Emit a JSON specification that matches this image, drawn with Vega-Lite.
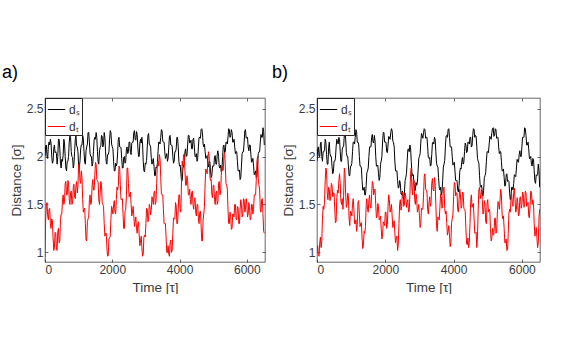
{
"$schema":"https://vega.github.io/schema/vega-lite/v6.json",
"autosize":{"type":"pad"},
"padding":{"left":1,"top":63,"right":0,"bottom":0},
"background":"white",
"bounds":"flush",
"spacing":52,
"config":{
 "font":"Liberation Sans",
 "view":{"stroke":"#262626","strokeWidth":0.7},
 "axis":{"domain":false,"grid":false,"tickColor":"#262626","tickSize":-3,"tickWidth":0.7,"labelColor":"#3a3a3a","titleColor":"#3a3a3a","labelFontSize":12,"titleFontSize":13.5,"titleFontWeight":"normal","labelFont":"Liberation Sans","titleFont":"Liberation Sans"},
 "legend":{"orient":"top-left","offset":0,"title":null,"symbolType":"stroke","symbolSize":300,"symbolStrokeWidth":1,"padding":2,"rowPadding":1,"labelOffset":3,"strokeColor":"#262626","fillColor":"white","labelFontSize":12,"labelFont":"Liberation Sans","labelColor":"#333333","cornerRadius":0}
},
"datasets":{
"a":[
{"t":0,"ds":2.0,"dt":0.95},{"t":40,"ds":2.12,"dt":1.5},{"t":80,"ds":1.98,"dt":1.38},{"t":120,"ds":2.15,"dt":1.45},{"t":160,"ds":2.18,"dt":1.3},{"t":200,"ds":2.0,"dt":1.35},{"t":240,"ds":1.95,"dt":1.15},{"t":280,"ds":2.12,"dt":1.05},{"t":320,"ds":2.05,"dt":1.2},{"t":360,"ds":1.92,"dt":1.02},{"t":400,"ds":2.18,"dt":1.25},{"t":440,"ds":2.08,"dt":1.12},{"t":480,"ds":1.88,"dt":1.4},{"t":520,"ds":1.95,"dt":1.55},{"t":560,"ds":2.18,"dt":1.5},{"t":600,"ds":2.0,"dt":1.72},{"t":640,"ds":1.85,"dt":1.6},{"t":680,"ds":1.95,"dt":1.75},{"t":720,"ds":2.15,"dt":1.55},{"t":760,"ds":2.2,"dt":1.62},{"t":800,"ds":2.0,"dt":1.5},{"t":840,"ds":1.88,"dt":1.68},{"t":880,"ds":2.05,"dt":1.58},{"t":920,"ds":2.22,"dt":1.7},{"t":960,"ds":2.1,"dt":1.62},{"t":1000,"ds":1.9,"dt":1.92},{"t":1040,"ds":1.95,"dt":1.75},{"t":1080,"ds":2.12,"dt":1.85},{"t":1120,"ds":2.22,"dt":1.55},{"t":1160,"ds":2.05,"dt":1.45},{"t":1200,"ds":1.92,"dt":1.3},{"t":1240,"ds":2.1,"dt":1.12},{"t":1280,"ds":2.25,"dt":1.35},{"t":1320,"ds":2.15,"dt":1.55},{"t":1360,"ds":2.0,"dt":1.5},{"t":1400,"ds":1.9,"dt":1.7},{"t":1440,"ds":2.05,"dt":1.65},{"t":1480,"ds":2.2,"dt":1.8},{"t":1520,"ds":2.25,"dt":1.92},{"t":1560,"ds":2.05,"dt":1.75},{"t":1600,"ds":1.92,"dt":1.55},{"t":1640,"ds":2.1,"dt":1.62},{"t":1680,"ds":2.22,"dt":1.7},{"t":1720,"ds":2.1,"dt":1.5},{"t":1760,"ds":2.25,"dt":1.3},{"t":1800,"ds":2.05,"dt":1.2},{"t":1840,"ds":1.92,"dt":1.05},{"t":1880,"ds":2.02,"dt":0.97},{"t":1920,"ds":2.18,"dt":1.15},{"t":1960,"ds":2.25,"dt":1.35},{"t":2000,"ds":2.1,"dt":1.45},{"t":2040,"ds":1.95,"dt":1.5},{"t":2080,"ds":1.85,"dt":1.42},{"t":2120,"ds":1.9,"dt":1.55},{"t":2160,"ds":2.05,"dt":1.65},{"t":2200,"ds":2.2,"dt":1.9},{"t":2240,"ds":2.1,"dt":1.7},{"t":2280,"ds":1.98,"dt":1.55},{"t":2320,"ds":1.88,"dt":1.4},{"t":2360,"ds":2.0,"dt":1.25},{"t":2400,"ds":1.95,"dt":1.45},{"t":2440,"ds":2.1,"dt":1.88},{"t":2480,"ds":2.05,"dt":1.72},{"t":2520,"ds":2.15,"dt":1.6},{"t":2560,"ds":2.02,"dt":1.5},{"t":2600,"ds":2.15,"dt":1.42},{"t":2640,"ds":2.25,"dt":1.38},{"t":2680,"ds":2.18,"dt":1.32},{"t":2720,"ds":2.26,"dt":1.25},{"t":2760,"ds":2.1,"dt":1.3},{"t":2800,"ds":2.0,"dt":1.18},{"t":2840,"ds":2.18,"dt":1.12},{"t":2880,"ds":2.2,"dt":1.05},{"t":2920,"ds":1.95,"dt":0.98},{"t":2960,"ds":1.84,"dt":1.18},{"t":3000,"ds":1.92,"dt":1.3},{"t":3040,"ds":2.1,"dt":1.45},{"t":3080,"ds":2.24,"dt":1.35},{"t":3120,"ds":2.12,"dt":1.48},{"t":3160,"ds":1.98,"dt":1.45},{"t":3200,"ds":1.95,"dt":1.55},{"t":3240,"ds":1.9,"dt":1.62},{"t":3280,"ds":1.8,"dt":1.5},{"t":3320,"ds":1.88,"dt":1.72},{"t":3360,"ds":2.05,"dt":1.95},{"t":3400,"ds":2.15,"dt":2.02},{"t":3440,"ds":2.2,"dt":1.78},{"t":3480,"ds":2.27,"dt":1.6},{"t":3520,"ds":2.15,"dt":1.45},{"t":3560,"ds":2.05,"dt":1.3},{"t":3600,"ds":2.0,"dt":1.15},{"t":3640,"ds":1.95,"dt":1.0},{"t":3680,"ds":2.1,"dt":0.98},{"t":3720,"ds":2.22,"dt":1.1},{"t":3760,"ds":2.12,"dt":1.0},{"t":3800,"ds":2.0,"dt":1.2},{"t":3840,"ds":1.95,"dt":1.35},{"t":3880,"ds":2.05,"dt":1.52},{"t":3920,"ds":2.2,"dt":1.3},{"t":3960,"ds":2.1,"dt":1.45},{"t":4000,"ds":1.9,"dt":1.6},{"t":4040,"ds":1.82,"dt":1.42},{"t":4080,"ds":1.75,"dt":1.95},{"t":4120,"ds":1.9,"dt":2.02},{"t":4160,"ds":2.05,"dt":1.85},{"t":4200,"ds":2.0,"dt":1.7},{"t":4240,"ds":2.12,"dt":1.75},{"t":4280,"ds":2.22,"dt":1.6},{"t":4320,"ds":2.15,"dt":1.55},{"t":4360,"ds":2.08,"dt":1.62},{"t":4400,"ds":2.18,"dt":1.5},{"t":4440,"ds":2.1,"dt":1.55},{"t":4480,"ds":2.0,"dt":1.42},{"t":4520,"ds":1.95,"dt":1.5},{"t":4560,"ds":2.1,"dt":1.35},{"t":4600,"ds":2.2,"dt":1.42},{"t":4640,"ds":2.28,"dt":1.28},{"t":4680,"ds":2.25,"dt":1.12},{"t":4720,"ds":2.1,"dt":1.4},{"t":4760,"ds":2.05,"dt":1.72},{"t":4800,"ds":2.0,"dt":1.85},{"t":4840,"ds":1.92,"dt":1.95},{"t":4880,"ds":1.95,"dt":2.0},{"t":4920,"ds":1.85,"dt":1.75},{"t":4960,"ds":1.8,"dt":1.6},{"t":5000,"ds":1.9,"dt":1.7},{"t":5040,"ds":2.0,"dt":1.55},{"t":5080,"ds":1.92,"dt":1.62},{"t":5120,"ds":2.02,"dt":1.5},{"t":5160,"ds":2.0,"dt":1.72},{"t":5200,"ds":1.88,"dt":1.6},{"t":5240,"ds":1.84,"dt":1.8},{"t":5280,"ds":2.0,"dt":1.85},{"t":5320,"ds":2.12,"dt":2.02},{"t":5360,"ds":2.05,"dt":1.9},{"t":5400,"ds":2.15,"dt":1.7},{"t":5440,"ds":2.2,"dt":1.45},{"t":5480,"ds":2.28,"dt":1.3},{"t":5520,"ds":2.22,"dt":1.38},{"t":5560,"ds":2.25,"dt":1.25},{"t":5600,"ds":2.15,"dt":1.4},{"t":5640,"ds":2.1,"dt":1.5},{"t":5680,"ds":2.05,"dt":1.35},{"t":5720,"ds":1.95,"dt":1.48},{"t":5760,"ds":1.85,"dt":1.3},{"t":5800,"ds":1.76,"dt":1.45},{"t":5840,"ds":1.9,"dt":1.5},{"t":5880,"ds":2.05,"dt":1.4},{"t":5920,"ds":2.15,"dt":1.55},{"t":5960,"ds":2.28,"dt":1.45},{"t":6000,"ds":2.2,"dt":1.5},{"t":6040,"ds":2.1,"dt":1.4},{"t":6080,"ds":2.12,"dt":1.48},{"t":6120,"ds":2.02,"dt":1.35},{"t":6160,"ds":1.95,"dt":1.5},{"t":6200,"ds":1.9,"dt":1.45},{"t":6240,"ds":1.82,"dt":1.6},{"t":6280,"ds":1.78,"dt":1.75},{"t":6320,"ds":1.9,"dt":2.0},{"t":6360,"ds":2.05,"dt":1.7},{"t":6400,"ds":2.15,"dt":1.45},{"t":6440,"ds":2.2,"dt":1.55},{"t":6480,"ds":2.3,"dt":1.4},{"t":6520,"ds":2.12,"dt":1.2},
{"t":20,"ds":2.11,"dt":1.35},{"t":60,"ds":2.0,"dt":1.52},{"t":100,"ds":2.11,"dt":1.34},{"t":140,"ds":2.12,"dt":1.46},{"t":180,"ds":2.14,"dt":1.25},{"t":220,"ds":1.93,"dt":1.33},{"t":260,"ds":2.08,"dt":1.02},{"t":300,"ds":2.04,"dt":1.21},{"t":340,"ds":2.03,"dt":1.03},{"t":380,"ds":2.0,"dt":1.22},{"t":420,"ds":2.18,"dt":1.1},{"t":460,"ds":1.93,"dt":1.34},{"t":500,"ds":1.97,"dt":1.4},{"t":540,"ds":2.02,"dt":1.6},{"t":580,"ds":2.14,"dt":1.53},{"t":620,"ds":1.88,"dt":1.74},{"t":660,"ds":1.95,"dt":1.6},{"t":700,"ds":2.0,"dt":1.73},{"t":740,"ds":2.22,"dt":1.5},{"t":780,"ds":2.05,"dt":1.64},{"t":820,"ds":1.99,"dt":1.51},{"t":860,"ds":1.92,"dt":1.71},{"t":900,"ds":2.18,"dt":1.56},{"t":940,"ds":2.11,"dt":1.74},{"t":980,"ds":2.05,"dt":1.69},{"t":1020,"ds":1.88,"dt":1.91},{"t":1060,"ds":2.08,"dt":1.72},{"t":1100,"ds":2.12,"dt":1.78},{"t":1140,"ds":2.18,"dt":1.42},{"t":1180,"ds":1.94,"dt":1.46},{"t":1220,"ds":2.06,"dt":1.13},{"t":1260,"ds":2.13,"dt":1.32},{"t":1300,"ds":2.25,"dt":1.37},{"t":1340,"ds":2.03,"dt":1.6},{"t":1380,"ds":2.0,"dt":1.52},{"t":1420,"ds":1.93,"dt":1.76},{"t":1460,"ds":2.17,"dt":1.65},{"t":1500,"ds":2.18,"dt":1.94},{"t":1540,"ds":2.2,"dt":1.76},{"t":1580,"ds":1.94,"dt":1.73},{"t":1620,"ds":2.06,"dt":1.5},{"t":1660,"ds":2.11,"dt":1.74},{"t":1700,"ds":2.21,"dt":1.52},{"t":1740,"ds":2.13,"dt":1.48},{"t":1780,"ds":2.2,"dt":1.17},{"t":1820,"ds":1.94,"dt":1.2},{"t":1860,"ds":2.02,"dt":0.96},{"t":1900,"ds":2.05,"dt":1.14},{"t":1940,"ds":2.27,"dt":1.17},{"t":1980,"ds":2.13,"dt":1.48},{"t":2020,"ds":2.08,"dt":1.4},{"t":2060,"ds":1.85,"dt":1.54},{"t":2100,"ds":1.93,"dt":1.4},{"t":2140,"ds":1.93,"dt":1.68},{"t":2180,"ds":2.18,"dt":1.7},{"t":2220,"ds":2.1,"dt":1.88},{"t":2260,"ds":2.09,"dt":1.55},{"t":2300,"ds":1.88,"dt":1.56},{"t":2340,"ds":1.99,"dt":1.25},{"t":2380,"ds":1.93,"dt":1.43},{"t":2420,"ds":2.08,"dt":1.59},{"t":2460,"ds":2.03,"dt":1.88},{"t":2500,"ds":2.15,"dt":1.58},{"t":2540,"ds":2.04,"dt":1.63},{"t":2580,"ds":2.14,"dt":1.38},{"t":2620,"ds":2.15,"dt":1.48},{"t":2660,"ds":2.27,"dt":1.27},{"t":2700,"ds":2.17,"dt":1.37},{"t":2740,"ds":2.23,"dt":1.2},{"t":2780,"ds":2.0,"dt":1.32},{"t":2820,"ds":2.14,"dt":1.07},{"t":2860,"ds":2.14,"dt":1.17},{"t":2900,"ds":2.13,"dt":0.96},{"t":2940,"ds":1.85,"dt":1.16},{"t":2980,"ds":1.93,"dt":1.16},{"t":3020,"ds":1.96,"dt":1.46},{"t":3060,"ds":2.22,"dt":1.32},{"t":3100,"ds":2.13,"dt":1.5},{"t":3140,"ds":2.1,"dt":1.39},{"t":3180,"ds":1.92,"dt":1.58},{"t":3220,"ds":1.98,"dt":1.5},{"t":3260,"ds":1.8,"dt":1.64},{"t":3300,"ds":1.89,"dt":1.53},{"t":3340,"ds":1.92,"dt":1.92},{"t":3380,"ds":2.15,"dt":1.9},{"t":3420,"ds":2.13,"dt":1.98},{"t":3460,"ds":2.28,"dt":1.61},{"t":3500,"ds":2.16,"dt":1.6},{"t":3540,"ds":2.15,"dt":1.3},{"t":3580,"ds":1.98,"dt":1.3},{"t":3620,"ds":2.03,"dt":1.0},{"t":3660,"ds":1.98,"dt":1.07},{"t":3700,"ds":2.21,"dt":0.96},{"t":3740,"ds":2.12,"dt":1.13},{"t":3780,"ds":2.11,"dt":1.02},{"t":3820,"ds":1.93,"dt":1.36},{"t":3860,"ds":2.05,"dt":1.35},{"t":3900,"ds":2.08,"dt":1.49},{"t":3940,"ds":2.2,"dt":1.3},{"t":3980,"ds":1.95,"dt":1.6},{"t":4020,"ds":1.91,"dt":1.43},{"t":4060,"ds":1.74,"dt":1.77},{"t":4100,"ds":1.88,"dt":1.9},{"t":4140,"ds":1.93,"dt":2.01},{"t":4180,"ds":2.08,"dt":1.7},{"t":4220,"ds":2.01,"dt":1.8},{"t":4260,"ds":2.22,"dt":1.6},{"t":4300,"ds":2.14,"dt":1.66},{"t":4340,"ds":2.17,"dt":1.5},{"t":4380,"ds":2.08,"dt":1.64},{"t":4420,"ds":2.19,"dt":1.45},{"t":4460,"ds":2.0,"dt":1.57},{"t":4500,"ds":2.03,"dt":1.38},{"t":4540,"ds":1.98,"dt":1.5},{"t":4580,"ds":2.2,"dt":1.3},{"t":4620,"ds":2.19,"dt":1.43},{"t":4660,"ds":2.29,"dt":1.12},{"t":4700,"ds":2.13,"dt":1.34},{"t":4740,"ds":2.13,"dt":1.48},{"t":4780,"ds":1.98,"dt":1.87},{"t":4820,"ds":2.01,"dt":1.82},{"t":4860,"ds":1.89,"dt":2.05},{"t":4900,"ds":1.95,"dt":1.8},{"t":4940,"ds":1.78,"dt":1.76},{"t":4980,"ds":1.9,"dt":1.57},{"t":5020,"ds":1.9,"dt":1.7},{"t":5060,"ds":2.01,"dt":1.5},{"t":5100,"ds":1.92,"dt":1.64},{"t":5140,"ds":2.06,"dt":1.53},{"t":5180,"ds":1.89,"dt":1.74},{"t":5220,"ds":1.91,"dt":1.62},{"t":5260,"ds":1.87,"dt":1.9},{"t":5300,"ds":2.11,"dt":1.86},{"t":5340,"ds":2.04,"dt":2.04},{"t":5380,"ds":2.15,"dt":1.72},{"t":5420,"ds":2.13,"dt":1.66},{"t":5460,"ds":2.29,"dt":1.3},{"t":5500,"ds":2.2,"dt":1.42},{"t":5540,"ds":2.28,"dt":1.24},{"t":5580,"ds":2.15,"dt":1.4},{"t":5620,"ds":2.18,"dt":1.37},{"t":5660,"ds":2.03,"dt":1.5},{"t":5700,"ds":2.05,"dt":1.34},{"t":5740,"ds":1.85,"dt":1.47},{"t":5780,"ds":1.86,"dt":1.3},{"t":5820,"ds":1.78,"dt":1.55},{"t":5860,"ds":2.03,"dt":1.37},{"t":5900,"ds":2.05,"dt":1.56},{"t":5940,"ds":2.27,"dt":1.42},{"t":5980,"ds":2.19,"dt":1.56},{"t":6020,"ds":2.2,"dt":1.37},{"t":6060,"ds":2.06,"dt":1.52},{"t":6100,"ds":2.12,"dt":1.34},{"t":6140,"ds":1.94,"dt":1.5},{"t":6180,"ds":1.98,"dt":1.4},{"t":6220,"ds":1.81,"dt":1.6},{"t":6260,"ds":1.85,"dt":1.6},{"t":6300,"ds":1.79,"dt":1.95},{"t":6340,"ds":2.03,"dt":1.77},{"t":6380,"ds":2.05,"dt":1.66},{"t":6420,"ds":2.23,"dt":1.42},{"t":6460,"ds":2.2,"dt":1.56},{"t":6500,"ds":2.26,"dt":1.22}
],
"b":[
{"t":0,"ds":1.95,"dt":1.0},{"t":40,"ds":2.1,"dt":0.97},{"t":80,"ds":2.0,"dt":1.1},{"t":120,"ds":2.15,"dt":1.05},{"t":160,"ds":1.95,"dt":1.35},{"t":200,"ds":2.05,"dt":1.45},{"t":240,"ds":2.18,"dt":1.75},{"t":280,"ds":2.02,"dt":1.85},{"t":320,"ds":1.92,"dt":1.55},{"t":360,"ds":2.15,"dt":1.65},{"t":400,"ds":2.0,"dt":1.58},{"t":440,"ds":1.9,"dt":1.7},{"t":480,"ds":1.84,"dt":1.62},{"t":520,"ds":1.95,"dt":1.45},{"t":560,"ds":2.1,"dt":1.32},{"t":600,"ds":2.15,"dt":1.65},{"t":640,"ds":2.2,"dt":1.75},{"t":680,"ds":2.05,"dt":1.72},{"t":720,"ds":1.95,"dt":1.5},{"t":760,"ds":2.1,"dt":1.45},{"t":800,"ds":2.22,"dt":1.88},{"t":840,"ds":2.18,"dt":1.6},{"t":880,"ds":2.0,"dt":1.5},{"t":920,"ds":1.9,"dt":1.58},{"t":960,"ds":1.8,"dt":1.28},{"t":1000,"ds":1.9,"dt":1.42},{"t":1040,"ds":2.05,"dt":1.5},{"t":1080,"ds":2.15,"dt":1.45},{"t":1120,"ds":2.2,"dt":1.3},{"t":1160,"ds":2.25,"dt":1.22},{"t":1200,"ds":2.15,"dt":1.52},{"t":1240,"ds":2.0,"dt":1.4},{"t":1280,"ds":1.9,"dt":1.3},{"t":1320,"ds":1.75,"dt":1.15},{"t":1360,"ds":1.65,"dt":1.08},{"t":1400,"ds":1.6,"dt":1.2},{"t":1440,"ds":1.7,"dt":1.5},{"t":1480,"ds":1.85,"dt":1.45},{"t":1520,"ds":2.0,"dt":1.55},{"t":1560,"ds":2.1,"dt":1.48},{"t":1600,"ds":2.2,"dt":1.6},{"t":1640,"ds":2.15,"dt":1.72},{"t":1680,"ds":2.22,"dt":1.65},{"t":1720,"ds":2.0,"dt":1.5},{"t":1760,"ds":1.9,"dt":1.38},{"t":1800,"ds":1.82,"dt":1.48},{"t":1840,"ds":1.78,"dt":1.35},{"t":1880,"ds":1.95,"dt":1.25},{"t":1920,"ds":2.15,"dt":1.18},{"t":1960,"ds":2.25,"dt":1.3},{"t":2000,"ds":2.15,"dt":1.42},{"t":2040,"ds":2.05,"dt":1.25},{"t":2080,"ds":2.12,"dt":1.48},{"t":2120,"ds":2.2,"dt":1.55},{"t":2160,"ds":2.25,"dt":1.45},{"t":2200,"ds":2.27,"dt":1.38},{"t":2240,"ds":2.15,"dt":1.3},{"t":2280,"ds":1.95,"dt":1.2},{"t":2320,"ds":1.85,"dt":1.15},{"t":2360,"ds":1.75,"dt":1.02},{"t":2400,"ds":1.68,"dt":1.3},{"t":2440,"ds":1.72,"dt":1.55},{"t":2480,"ds":1.6,"dt":1.48},{"t":2520,"ds":1.58,"dt":1.62},{"t":2560,"ds":1.62,"dt":1.5},{"t":2600,"ds":1.78,"dt":1.58},{"t":2640,"ds":1.95,"dt":1.52},{"t":2680,"ds":2.08,"dt":1.42},{"t":2720,"ds":2.12,"dt":1.6},{"t":2760,"ds":1.95,"dt":1.88},{"t":2800,"ds":1.8,"dt":1.6},{"t":2840,"ds":1.72,"dt":1.75},{"t":2880,"ds":1.65,"dt":1.5},{"t":2920,"ds":1.7,"dt":1.55},{"t":2960,"ds":1.85,"dt":1.45},{"t":3000,"ds":2.0,"dt":1.38},{"t":3040,"ds":2.15,"dt":1.3},{"t":3080,"ds":2.22,"dt":1.45},{"t":3120,"ds":2.25,"dt":1.6},{"t":3160,"ds":2.28,"dt":1.82},{"t":3200,"ds":2.2,"dt":1.65},{"t":3240,"ds":2.1,"dt":1.45},{"t":3280,"ds":1.98,"dt":1.52},{"t":3320,"ds":1.9,"dt":1.48},{"t":3360,"ds":2.02,"dt":1.72},{"t":3400,"ds":2.15,"dt":1.65},{"t":3440,"ds":2.2,"dt":1.78},{"t":3480,"ds":2.05,"dt":1.5},{"t":3520,"ds":1.9,"dt":1.22},{"t":3560,"ds":1.78,"dt":1.35},{"t":3600,"ds":1.65,"dt":1.48},{"t":3640,"ds":1.6,"dt":1.58},{"t":3680,"ds":1.75,"dt":1.5},{"t":3720,"ds":1.92,"dt":1.68},{"t":3760,"ds":2.1,"dt":1.4},{"t":3800,"ds":2.22,"dt":1.3},{"t":3840,"ds":2.28,"dt":1.22},{"t":3880,"ds":2.2,"dt":1.18},{"t":3920,"ds":2.1,"dt":1.1},{"t":3960,"ds":2.0,"dt":1.35},{"t":4000,"ds":1.92,"dt":1.58},{"t":4040,"ds":1.85,"dt":1.72},{"t":4080,"ds":1.75,"dt":1.62},{"t":4120,"ds":1.65,"dt":1.45},{"t":4160,"ds":1.7,"dt":1.55},{"t":4200,"ds":1.88,"dt":1.6},{"t":4240,"ds":1.95,"dt":1.48},{"t":4280,"ds":1.92,"dt":1.62},{"t":4320,"ds":2.05,"dt":1.45},{"t":4360,"ds":2.12,"dt":1.25},{"t":4400,"ds":2.05,"dt":1.08},{"t":4440,"ds":2.15,"dt":1.05},{"t":4480,"ds":2.2,"dt":1.3},{"t":4520,"ds":2.1,"dt":1.6},{"t":4560,"ds":2.22,"dt":1.5},{"t":4600,"ds":2.28,"dt":1.35},{"t":4640,"ds":2.22,"dt":1.2},{"t":4680,"ds":2.1,"dt":1.05},{"t":4720,"ds":1.95,"dt":1.45},{"t":4760,"ds":1.8,"dt":1.68},{"t":4800,"ds":1.68,"dt":1.6},{"t":4840,"ds":1.62,"dt":1.55},{"t":4880,"ds":1.65,"dt":1.42},{"t":4920,"ds":1.8,"dt":1.5},{"t":4960,"ds":1.95,"dt":1.3},{"t":5000,"ds":2.05,"dt":1.55},{"t":5040,"ds":2.12,"dt":1.45},{"t":5080,"ds":2.2,"dt":1.25},{"t":5120,"ds":2.25,"dt":1.15},{"t":5160,"ds":2.3,"dt":1.18},{"t":5200,"ds":2.22,"dt":1.35},{"t":5240,"ds":2.28,"dt":1.2},{"t":5280,"ds":2.2,"dt":1.4},{"t":5320,"ds":2.1,"dt":1.5},{"t":5360,"ds":2.05,"dt":1.55},{"t":5400,"ds":1.95,"dt":1.6},{"t":5440,"ds":1.85,"dt":1.35},{"t":5480,"ds":1.78,"dt":1.25},{"t":5520,"ds":1.7,"dt":1.1},{"t":5560,"ds":1.82,"dt":1.02},{"t":5600,"ds":1.75,"dt":1.2},{"t":5640,"ds":1.62,"dt":1.45},{"t":5680,"ds":1.58,"dt":1.55},{"t":5720,"ds":1.68,"dt":1.5},{"t":5760,"ds":1.72,"dt":1.62},{"t":5800,"ds":1.8,"dt":1.55},{"t":5840,"ds":1.88,"dt":1.45},{"t":5880,"ds":1.95,"dt":1.52},{"t":5920,"ds":2.02,"dt":1.4},{"t":5960,"ds":2.0,"dt":1.58},{"t":6000,"ds":2.1,"dt":1.5},{"t":6040,"ds":2.2,"dt":1.6},{"t":6080,"ds":2.3,"dt":1.5},{"t":6120,"ds":2.22,"dt":1.62},{"t":6160,"ds":2.12,"dt":1.5},{"t":6200,"ds":2.08,"dt":1.38},{"t":6240,"ds":1.98,"dt":1.5},{"t":6280,"ds":1.92,"dt":1.62},{"t":6320,"ds":1.98,"dt":1.55},{"t":6360,"ds":1.85,"dt":1.3},{"t":6400,"ds":1.72,"dt":1.2},{"t":6440,"ds":1.8,"dt":1.15},{"t":6480,"ds":1.92,"dt":1.1},{"t":6520,"ds":1.68,"dt":1.45},
{"t":20,"ds":2.08,"dt":1.07},{"t":60,"ds":2.0,"dt":0.96},{"t":100,"ds":2.13,"dt":1.16},{"t":140,"ds":2.0,"dt":1.12},{"t":180,"ds":2.05,"dt":1.48},{"t":220,"ds":2.07,"dt":1.52},{"t":260,"ds":2.15,"dt":1.88},{"t":300,"ds":1.92,"dt":1.62},{"t":340,"ds":2.09,"dt":1.68},{"t":380,"ds":2.03,"dt":1.54},{"t":420,"ds":2.0,"dt":1.72},{"t":460,"ds":1.82,"dt":1.58},{"t":500,"ds":1.95,"dt":1.62},{"t":540,"ds":1.98,"dt":1.31},{"t":580,"ds":2.18,"dt":1.57},{"t":620,"ds":2.13,"dt":1.62},{"t":660,"ds":2.18,"dt":1.82},{"t":700,"ds":1.95,"dt":1.53},{"t":740,"ds":2.08,"dt":1.56},{"t":780,"ds":2.11,"dt":1.59},{"t":820,"ds":2.25,"dt":1.82},{"t":860,"ds":2.04,"dt":1.47},{"t":900,"ds":2.0,"dt":1.62},{"t":940,"ds":1.8,"dt":1.35},{"t":980,"ds":1.9,"dt":1.43},{"t":1020,"ds":1.93,"dt":1.38},{"t":1060,"ds":2.15,"dt":1.56},{"t":1100,"ds":2.13,"dt":1.3},{"t":1140,"ds":2.28,"dt":1.34},{"t":1180,"ds":2.15,"dt":1.29},{"t":1220,"ds":2.13,"dt":1.54},{"t":1260,"ds":1.9,"dt":1.27},{"t":1300,"ds":1.88,"dt":1.31},{"t":1340,"ds":1.65,"dt":1.04},{"t":1380,"ds":1.68,"dt":1.22},{"t":1420,"ds":1.6,"dt":1.27},{"t":1460,"ds":1.83,"dt":1.56},{"t":1500,"ds":1.88,"dt":1.42},{"t":1540,"ds":2.1,"dt":1.6},{"t":1580,"ds":2.1,"dt":1.46},{"t":1620,"ds":2.23,"dt":1.74},{"t":1660,"ds":2.14,"dt":1.6},{"t":1700,"ds":2.16,"dt":1.66},{"t":1740,"ds":1.9,"dt":1.36},{"t":1780,"ds":1.91,"dt":1.51},{"t":1820,"ds":1.75,"dt":1.34},{"t":1860,"ds":1.92,"dt":1.38},{"t":1900,"ds":2.0,"dt":1.14},{"t":1940,"ds":2.25,"dt":1.32},{"t":1980,"ds":2.15,"dt":1.28},{"t":2020,"ds":2.15,"dt":1.42},{"t":2060,"ds":2.04,"dt":1.29},{"t":2100,"ds":2.21,"dt":1.6},{"t":2140,"ds":2.18,"dt":1.42},{"t":2180,"ds":2.29,"dt":1.5},{"t":2220,"ds":2.16,"dt":1.26},{"t":2260,"ds":2.1,"dt":1.33},{"t":2300,"ds":1.85,"dt":1.1},{"t":2340,"ds":1.85,"dt":1.17},{"t":2380,"ds":1.67,"dt":1.08},{"t":2420,"ds":1.75,"dt":1.51},{"t":2460,"ds":1.61,"dt":1.44},{"t":2500,"ds":1.64,"dt":1.63},{"t":2540,"ds":1.55,"dt":1.48},{"t":2580,"ds":1.75,"dt":1.62},{"t":2620,"ds":1.82,"dt":1.47},{"t":2660,"ds":2.07,"dt":1.55},{"t":2700,"ds":2.05,"dt":1.43},{"t":2740,"ds":2.09,"dt":1.82},{"t":2780,"ds":1.83,"dt":1.66},{"t":2820,"ds":1.81,"dt":1.76},{"t":2860,"ds":1.64,"dt":1.55},{"t":2900,"ds":1.73,"dt":1.61},{"t":2940,"ds":1.73,"dt":1.42},{"t":2980,"ds":1.98,"dt":1.5},{"t":3020,"ds":2.03,"dt":1.26},{"t":3060,"ds":2.24,"dt":1.46},{"t":3100,"ds":2.19,"dt":1.45},{"t":3140,"ds":2.29,"dt":1.79},{"t":3180,"ds":2.19,"dt":1.66},{"t":3220,"ds":2.2,"dt":1.63},{"t":3260,"ds":1.99,"dt":1.4},{"t":3300,"ds":1.99,"dt":1.58},{"t":3340,"ds":1.91,"dt":1.52},{"t":3380,"ds":2.14,"dt":1.77},{"t":3420,"ds":2.13,"dt":1.64},{"t":3460,"ds":2.18,"dt":1.72},{"t":3500,"ds":1.93,"dt":1.28},{"t":3540,"ds":1.89,"dt":1.37},{"t":3580,"ds":1.67,"dt":1.34},{"t":3620,"ds":1.68,"dt":1.61},{"t":3660,"ds":1.63,"dt":1.46},{"t":3700,"ds":1.89,"dt":1.67},{"t":3740,"ds":1.96,"dt":1.46},{"t":3780,"ds":2.21,"dt":1.43},{"t":3820,"ds":2.2,"dt":1.18},{"t":3860,"ds":2.29,"dt":1.28},{"t":3900,"ds":2.1,"dt":1.06},{"t":3940,"ds":2.1,"dt":1.31},{"t":3980,"ds":1.91,"dt":1.39},{"t":4020,"ds":1.94,"dt":1.73},{"t":4060,"ds":1.75,"dt":1.59},{"t":4100,"ds":1.75,"dt":1.62},{"t":4140,"ds":1.63,"dt":1.42},{"t":4180,"ds":1.84,"dt":1.66},{"t":4220,"ds":1.87,"dt":1.46},{"t":4260,"ds":1.99,"dt":1.63},{"t":4300,"ds":1.94,"dt":1.46},{"t":4340,"ds":2.14,"dt":1.43},{"t":4380,"ds":2.04,"dt":1.09},{"t":4420,"ds":2.15,"dt":1.15},{"t":4460,"ds":2.13,"dt":1.1},{"t":4500,"ds":2.2,"dt":1.53},{"t":4540,"ds":2.11,"dt":1.47},{"t":4580,"ds":2.29,"dt":1.51},{"t":4620,"ds":2.2,"dt":1.2},{"t":4660,"ds":2.21,"dt":1.21},{"t":4700,"ds":1.98,"dt":1.17},{"t":4740,"ds":1.93,"dt":1.65},{"t":4780,"ds":1.69,"dt":1.56},{"t":4820,"ds":1.7,"dt":1.66},{"t":4860,"ds":1.59,"dt":1.4},{"t":4900,"ds":1.78,"dt":1.54},{"t":4940,"ds":1.83,"dt":1.32},{"t":4980,"ds":2.05,"dt":1.51},{"t":5020,"ds":2.04,"dt":1.42},{"t":5060,"ds":2.21,"dt":1.43},{"t":5100,"ds":2.18,"dt":1.12},{"t":5140,"ds":2.29,"dt":1.25},{"t":5180,"ds":2.21,"dt":1.19},{"t":5220,"ds":2.29,"dt":1.36},{"t":5260,"ds":2.19,"dt":1.22},{"t":5300,"ds":2.2,"dt":1.53},{"t":5340,"ds":2.03,"dt":1.45},{"t":5380,"ds":2.05,"dt":1.66},{"t":5420,"ds":1.85,"dt":1.4},{"t":5460,"ds":1.87,"dt":1.38},{"t":5500,"ds":1.69,"dt":1.1},{"t":5540,"ds":1.81,"dt":1.14},{"t":5580,"ds":1.74,"dt":1.03},{"t":5620,"ds":1.74,"dt":1.41},{"t":5660,"ds":1.55,"dt":1.42},{"t":5700,"ds":1.68,"dt":1.61},{"t":5740,"ds":1.65,"dt":1.48},{"t":5780,"ds":1.81,"dt":1.67},{"t":5820,"ds":1.79,"dt":1.42},{"t":5860,"ds":1.97,"dt":1.57},{"t":5900,"ds":1.94,"dt":1.38},{"t":5940,"ds":2.06,"dt":1.57},{"t":5980,"ds":2.0,"dt":1.46},{"t":6020,"ds":2.2,"dt":1.63},{"t":6060,"ds":2.2,"dt":1.47},{"t":6100,"ds":2.29,"dt":1.64},{"t":6140,"ds":2.12,"dt":1.48},{"t":6180,"ds":2.15,"dt":1.52},{"t":6220,"ds":1.98,"dt":1.36},{"t":6260,"ds":2.0,"dt":1.64},{"t":6300,"ds":1.9,"dt":1.5},{"t":6340,"ds":1.97,"dt":1.51},{"t":6380,"ds":1.74,"dt":1.17},{"t":6420,"ds":1.81,"dt":1.26},{"t":6460,"ds":1.81,"dt":1.05},{"t":6500,"ds":1.85,"dt":1.36}
]
},
"hconcat":[
{
 "width":220,"height":164,
 "title":{"text":"a)","anchor":"start","frame":"group","dx":-43,"offset":16,"fontSize":18,"font":"Liberation Sans","fontWeight":"normal","color":"#000000"},
 "data":{"name":"a"},
 "transform":[{"fold":["ds","dt"],"as":["k","v"]}],
 "layer":[
  {
   "mark":{"type":"line","strokeWidth":1,"clip":true},
   "encoding":{
    "x":{"field":"t","type":"quantitative","scale":{"domain":[0,6540],"nice":false,"zero":false},"axis":{"values":[0,2000,4000,6000],"format":"d","title":"Time [τ]","labelPadding":5,"titlePadding":5}},
    "y":{"field":"v","type":"quantitative","scale":{"domain":[0.9,2.61],"nice":false,"zero":false},"axis":{"values":[1,1.5,2,2.5],"format":"~g","title":"Distance [σ]","labelPadding":5,"titlePadding":3}},
    "color":{"field":"k","type":"nominal","scale":{"domain":["ds","dt"],"range":["#000000","#ff0000"]},"legend":{"labelExpr":"datum.value == 'ds' ? 'dₛ' : 'dₜ'"}}
   }
  },
  {
   "mark":{"type":"line","opacity":0},
   "encoding":{
    "x":{"field":"t","type":"quantitative","axis":{"orient":"top","values":[0,2000,4000,6000],"labels":false,"title":null}},
    "y":{"field":"v","type":"quantitative","axis":{"orient":"right","values":[1,1.5,2,2.5],"labels":false,"title":null}}
   }
  }
 ],
 "resolve":{"axis":{"x":"independent","y":"independent"}}
},
{
 "width":223,"height":164,
 "title":{"text":"b)","anchor":"start","frame":"group","dx":-45,"offset":16,"fontSize":18,"font":"Liberation Sans","fontWeight":"normal","color":"#000000"},
 "data":{"name":"b"},
 "transform":[{"fold":["ds","dt"],"as":["k","v"]}],
 "layer":[
  {
   "mark":{"type":"line","strokeWidth":1,"clip":true},
   "encoding":{
    "x":{"field":"t","type":"quantitative","scale":{"domain":[0,6530],"nice":false,"zero":false},"axis":{"values":[0,2000,4000,6000],"format":"d","title":"Time [τ]","labelPadding":5,"titlePadding":5}},
    "y":{"field":"v","type":"quantitative","scale":{"domain":[0.9,2.61],"nice":false,"zero":false},"axis":{"values":[1,1.5,2,2.5],"format":"~g","title":"Distance [σ]","labelPadding":5,"titlePadding":3}},
    "color":{"field":"k","type":"nominal","scale":{"domain":["ds","dt"],"range":["#000000","#ff0000"]},"legend":{"labelExpr":"datum.value == 'ds' ? 'dₛ' : 'dₜ'"}}
   }
  },
  {
   "mark":{"type":"line","opacity":0},
   "encoding":{
    "x":{"field":"t","type":"quantitative","axis":{"orient":"top","values":[0,2000,4000,6000],"labels":false,"title":null}},
    "y":{"field":"v","type":"quantitative","axis":{"orient":"right","values":[1,1.5,2,2.5],"labels":false,"title":null}}
   }
  }
 ],
 "resolve":{"axis":{"x":"independent","y":"independent"}}
}
],
"resolve":{"legend":{"color":"independent"}}
}
